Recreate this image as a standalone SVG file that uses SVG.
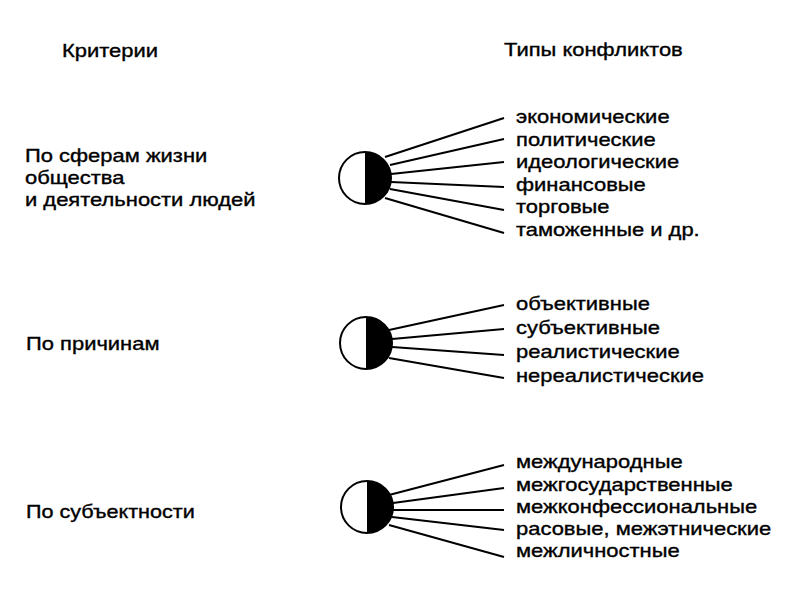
<svg xmlns="http://www.w3.org/2000/svg" width="800" height="600" viewBox="0 0 800 600">
<style>
text{font-family:"Liberation Sans",Arial,sans-serif;font-size:18px;fill:#000;stroke:#000;stroke-width:0.35}
.c{fill:#fff;stroke:#000;stroke-width:2}
.h{fill:#000}
.l{stroke:#000;stroke-width:2;fill:none}
</style>
<rect width="800" height="600" fill="#fff"/>
<g id="headers">
<g transform="translate(62 0) scale(1.22 1)"><text x="0" y="57">Критерии</text></g>
<g transform="translate(504 0) scale(1.22 1)"><text x="0" y="56">Типы конфликтов</text></g>
</g>
<g id="crit1" transform="translate(25 0) scale(1.22 1)">
<text x="0" y="162">По сферам жизни</text>
<text x="0" y="184">общества</text>
<text x="0" y="206">и деятельности людей</text>
</g>
<g id="crit2" transform="translate(26 0) scale(1.22 1)"><text x="0" y="350">По причинам</text></g>
<g id="crit3" transform="translate(26 0) scale(1.2 1)"><text x="0" y="518">По субъектности</text></g>
<g id="node1">
<circle class="c" cx="365" cy="178" r="26"/>
<path class="h" d="M365,152 A26,26 0 0 1 365,204 Z"/>
</g>
<g id="node2">
<circle class="c" cx="366" cy="343" r="26"/>
<path class="h" d="M366,317 A26,26 0 0 1 366,369 Z"/>
</g>
<g id="node3">
<circle class="c" cx="367" cy="507" r="26"/>
<path class="h" d="M367,481 A26,26 0 0 1 367,533 Z"/>
</g>
<g id="connectors">
<line class="l" x1="385" y1="157" x2="504" y2="118"/>
<line class="l" x1="390" y1="165" x2="504" y2="139"/>
<line class="l" x1="391" y1="174" x2="504" y2="162"/>
<line class="l" x1="391" y1="182" x2="504" y2="187"/>
<line class="l" x1="390" y1="189" x2="504" y2="210"/>
<line class="l" x1="385" y1="198" x2="504" y2="233"/>
<line class="l" x1="389" y1="330" x2="504" y2="305"/>
<line class="l" x1="392" y1="339" x2="504" y2="329"/>
<line class="l" x1="392" y1="347" x2="504" y2="355"/>
<line class="l" x1="389" y1="358" x2="504" y2="378"/>
<line class="l" x1="389" y1="495" x2="504" y2="465"/>
<line class="l" x1="393" y1="503" x2="504" y2="488"/>
<line class="l" x1="393" y1="510" x2="504" y2="510"/>
<line class="l" x1="392" y1="517" x2="504" y2="530"/>
<line class="l" x1="389" y1="525" x2="504" y2="557"/>
</g>
<g id="types1" transform="translate(516 0) scale(1.22 1)">
<text x="0" y="123">экономические</text>
<text x="0" y="146">политические</text>
<text x="0" y="168">идеологические</text>
<text x="0" y="191">финансовые</text>
<text x="0" y="213">торговые</text>
<text x="0" y="236">таможенные и др.</text>
</g>
<g id="types2" transform="translate(516 0) scale(1.22 1)">
<text x="0" y="310">объективные</text>
<text x="0" y="334">субъективные</text>
<text x="0" y="358">реалистические</text>
<text x="0" y="382">нереалистические</text>
</g>
<g id="types3" transform="translate(516 0) scale(1.22 1)">
<text x="0" y="468">международные</text>
<text x="0" y="491">межгосударственные</text>
<text x="0" y="513">межконфессиональные</text>
<text x="0" y="535">расовые, межэтнические</text>
<text x="0" y="557">межличностные</text>
</g>
</svg>
